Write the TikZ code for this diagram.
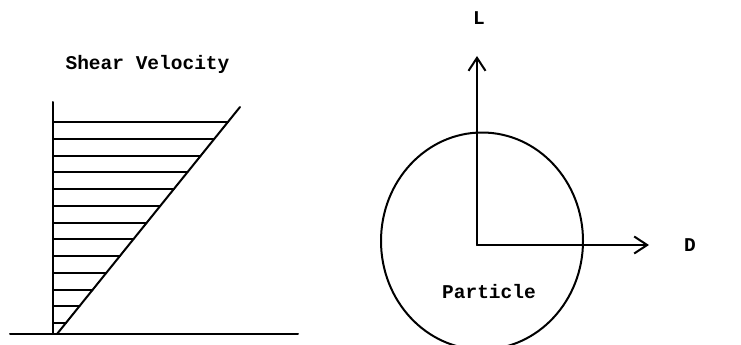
\documentclass[tikz,border=0pt]{standalone}
\usepackage{fontspec}
\setmonofont{Liberation Mono}
\usetikzlibrary{arrows.meta}
\begin{document}
\begin{tikzpicture}[x=1pt,y=-1pt,
  lbl/.style={font=\ttfamily\bfseries\fontsize{19.5}{20}\selectfont, inner sep=0pt},
  stroke/.style={line width=2pt, line cap=round},
  vec/.style={stroke, -{Straight Barb[length=13pt,width=17pt,line width=2pt]}}]
\useasboundingbox (0,0) rectangle (741,345);
\clip (0,0) rectangle (741,345);
% left panel: shear velocity profile
\node[lbl] (title) at (147.5,64) {Shear Velocity};
\coordinate (g1) at (10,334);
\coordinate (g2) at (298,334);
\coordinate (vtop) at (53,102);
\coordinate (vbot) at (53,334);
\coordinate (dbot) at (57,334);
\coordinate (dtop) at (240,107);
\draw[stroke] (g1) -- (g2);
\draw[stroke] (vtop) -- (vbot);
\draw[stroke] (dbot) -- (dtop);
\foreach \i in {0,...,12}{
  \pgfmathsetmacro{\yy}{round(122+\i*16.75)}
  \pgfmathsetmacro{\xx}{57+0.806*(334-\yy)}
  \draw[stroke] (53,\yy) -- (\xx,\yy);
}
% right panel: particle with lift and drag
\draw[stroke] (482,241) ellipse [x radius=101, y radius=108.5];
\coordinate (O) at (477,245);
\coordinate (Ltip) at (477,56);
\coordinate (Dtip) at (649,245);
\draw[vec] (O) -- (Ltip);
\draw[vec] (O) -- (Dtip);
\node[lbl] (L) at (479,18) {L};
\node[lbl] (D) at (690,245) {D};
\node[lbl] (P) at (489,292) {Particle};
\end{tikzpicture}
\end{document}
